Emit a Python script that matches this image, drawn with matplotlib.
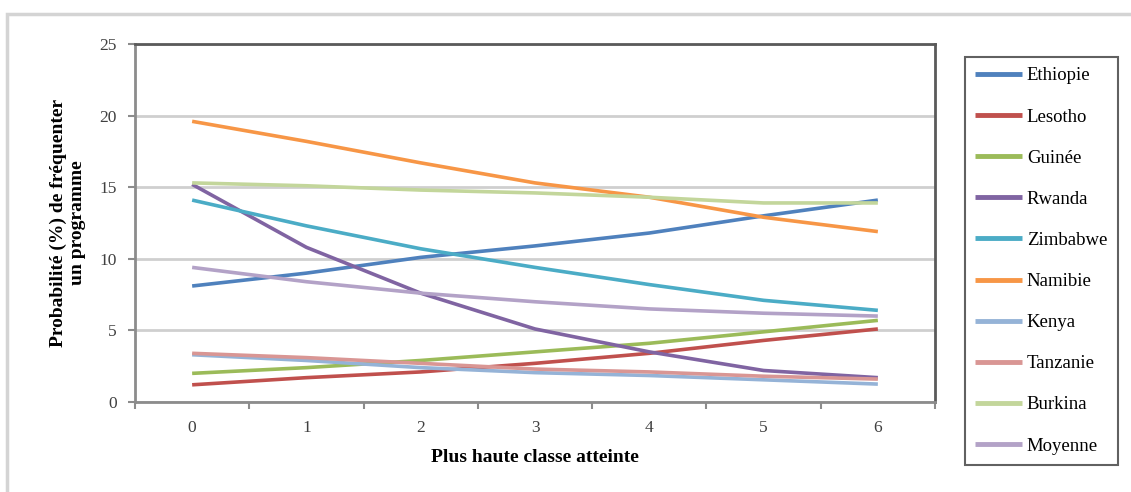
import matplotlib.pyplot as plt
from matplotlib.patches import Rectangle

# plus haute classe atteinte
classes = [0, 1, 2, 3, 4, 5, 6]

ethiopie = [8.1, 9.0, 10.1, 10.9, 11.8, 13.0, 14.1]
lesotho = [1.2, 1.7, 2.1, 2.7, 3.4, 4.3, 5.1]
guinee = [2.0, 2.4, 2.9, 3.5, 4.1, 4.9, 5.7]
rwanda = [15.2, 10.8, 7.6, 5.1, 3.5, 2.2, 1.7]
zimbabwe = [14.1, 12.3, 10.7, 9.4, 8.2, 7.1, 6.4]
namibie = [19.6, 18.2, 16.7, 15.3, 14.3, 12.9, 11.9]
kenya = [3.3, 2.9, 2.4, 2.05, 1.85, 1.55, 1.25]
tanzanie = [3.4, 3.1, 2.7, 2.3, 2.1, 1.8, 1.6]
burkina = [15.3, 15.1, 14.8, 14.6, 14.3, 13.9, 13.9]
moyenne = [9.4, 8.4, 7.6, 7.0, 6.5, 6.2, 6.0]

pays = ['Ethiopie', 'Lesotho', 'Guinée', 'Rwanda', 'Zimbabwe', 'Namibie',
        'Kenya', 'Tanzanie', 'Burkina', 'Moyenne']
series = [ethiopie, lesotho, guinee, rwanda, zimbabwe, namibie,
          kenya, tanzanie, burkina, moyenne]
couleurs = ['#4F81BD', '#C0504D', '#9BBB59', '#8064A2', '#4BACC6', '#F79646',
            '#95B3D7', '#D99694', '#C3D69B', '#B3A2C7']

plt.rcParams['font.family'] = ['Liberation Serif', 'DejaVu Serif']

fig = plt.figure(figsize=(11.31, 4.92), dpi=100)
ax = fig.add_axes([135 / 1131, 90 / 492, 800 / 1131, 358 / 492])

# cadre gris autour du graphique
fig.patches.append(Rectangle((7 / 1131, -0.1), 1.2, 0.1 + (492 - 14) / 492,
                             transform=fig.transFigure, fill=False,
                             edgecolor='#D4D4D4', linewidth=2.5))

for nom, vals, c in zip(pays, series, couleurs):
    ax.plot(classes, vals, color=c, linewidth=2.6, label=nom,
            solid_capstyle='butt')

ax.set_xlim(-0.5, 6.5)
ax.set_ylim(0, 25)
ax.set_yticks([0, 5, 10, 15, 20, 25])
ax.set_xticks(classes)
ax.set_xticks([x + 0.5 for x in classes[:-1]] + [-0.5, 6.5], minor=True)
ax.tick_params(axis='x', which='major', length=0, pad=13)
ax.tick_params(axis='x', which='minor', length=5, width=1.5, color='#8C8C8C')
ax.tick_params(axis='y', length=5, width=1.5, color='#8C8C8C', pad=8)
ax.tick_params(labelsize=12.5, labelcolor='#404040')

ax.yaxis.grid(True, color='#CFCFCF', linewidth=2)
ax.set_axisbelow(True)
for s in ['left', 'bottom']:
    ax.spines[s].set_color('#8C8C8C')
    ax.spines[s].set_linewidth(2)
for s in ['top', 'right']:
    ax.spines[s].set_color('#5A5A5A')
    ax.spines[s].set_linewidth(2)

ax.set_xlabel('Plus haute classe atteinte', fontsize=14, fontweight='bold',
              labelpad=9)
ax.set_ylabel('Probabilité (%) de fréquenter\nun programme', fontsize=14,
              fontweight='bold', labelpad=10, linespacing=1.1)

leg = fig.legend(loc='upper left', bbox_to_anchor=(965 / 1131, 1 - 57 / 492),
                 fontsize=13.5, frameon=True, fancybox=False,
                 handlelength=2.5, handletextpad=0.25, labelspacing=1.28,
                 borderpad=0.55, borderaxespad=0)
leg.get_frame().set_edgecolor('#3A3A3A')
leg.get_frame().set_linewidth(1.5)
for line in leg.get_lines():
    line.set_linewidth(3.5)

fig.savefig('out.png', dpi=100)
